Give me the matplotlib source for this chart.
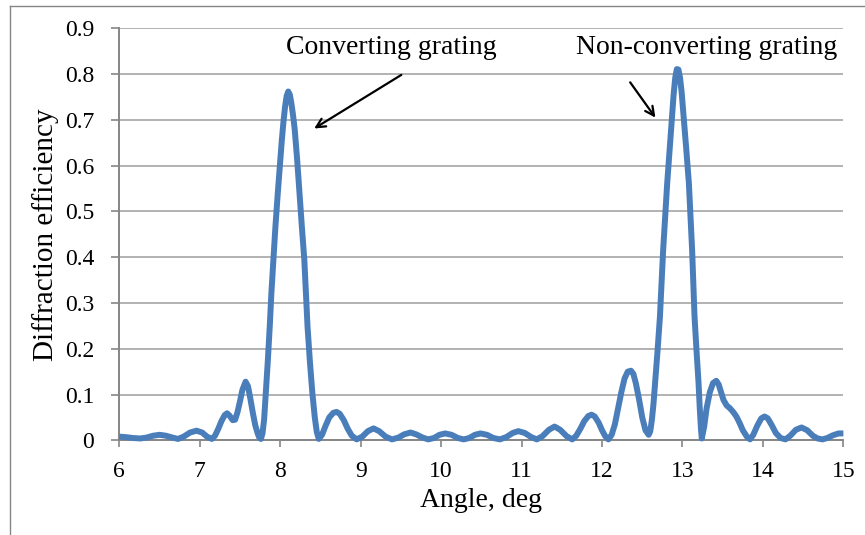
import matplotlib
matplotlib.use('Agg')
import matplotlib.pyplot as plt
from matplotlib.lines import Line2D

# angle (deg) and diffraction efficiency
angle = [
    # side lobes left of the converting-grating peak
    6.00, 6.08, 6.17, 6.26, 6.34, 6.42, 6.50, 6.58, 6.66, 6.73,
    6.80, 6.88, 6.96, 7.03, 7.09, 7.15, 7.19, 7.23, 7.27, 7.31,
    7.34, 7.37, 7.41, 7.44, 7.47, 7.50, 7.53, 7.57, 7.60, 7.63,
    7.66, 7.69, 7.72, 7.74, 7.76,
    # converting-grating peak
    7.78, 7.80, 7.82, 7.845, 7.87, 7.89, 7.915, 7.94, 7.97, 8.00,
    8.02, 8.04, 8.06, 8.08, 8.10, 8.12, 8.14, 8.16, 8.18, 8.21,
    8.24, 8.27, 8.30, 8.32, 8.34, 8.37, 8.40, 8.43, 8.455, 8.48,
    # ripples between the peaks
    8.52, 8.56, 8.61, 8.66, 8.70, 8.74, 8.79, 8.84, 8.89, 8.95,
    9.02, 9.09, 9.16, 9.23, 9.31, 9.39, 9.47, 9.54, 9.62, 9.69,
    9.77, 9.84, 9.91, 9.98, 10.05, 10.13, 10.21, 10.28, 10.35, 10.42,
    10.49, 10.57, 10.65, 10.73, 10.81, 10.89, 10.96, 11.04, 11.12, 11.19,
    11.26, 11.34, 11.41, 11.48, 11.56, 11.63, 11.68, 11.73, 11.78, 11.83,
    11.87, 11.91, 11.96, 12.00, 12.04, 12.08, 12.12, 12.16, 12.20, 12.24,
    12.28, 12.32, 12.36, 12.39, 12.42, 12.46, 12.50, 12.54, 12.58,
    # non-converting-grating peak
    12.60, 12.62, 12.64, 12.66, 12.69, 12.72, 12.74, 12.76, 12.785, 12.81,
    12.84, 12.87, 12.89, 12.91, 12.93, 12.95, 12.97, 12.99, 13.015, 13.05,
    13.08, 13.10, 13.12, 13.135, 13.15, 13.175, 13.20, 13.215, 13.23, 13.24,
    # side lobes on the right
    13.27, 13.30, 13.34, 13.38, 13.42, 13.45, 13.48, 13.51, 13.55, 13.59,
    13.63, 13.67, 13.71, 13.75, 13.80, 13.84, 13.88, 13.93, 13.98, 14.02,
    14.06, 14.11, 14.16, 14.22, 14.28, 14.34, 14.41, 14.48, 14.55, 14.62,
    14.68, 14.74, 14.80, 14.87, 14.94, 15.00,
]
efficiency = [
    0.008, 0.007, 0.005, 0.004, 0.006, 0.010, 0.012, 0.010, 0.006, 0.003,
    0.008, 0.017, 0.021, 0.017, 0.008, 0.003, 0.010, 0.025, 0.042, 0.055,
    0.059, 0.054, 0.044, 0.045, 0.062, 0.085, 0.110, 0.128, 0.118, 0.090,
    0.060, 0.033, 0.015, 0.006, 0.003,

    0.015, 0.045, 0.100, 0.170, 0.248, 0.320, 0.394, 0.465, 0.540, 0.610,
    0.655, 0.695, 0.728, 0.752, 0.762, 0.755, 0.735, 0.710, 0.680, 0.615,
    0.540, 0.465, 0.394, 0.320, 0.248, 0.170, 0.103, 0.050, 0.018, 0.003,

    0.012, 0.030, 0.050, 0.060, 0.062, 0.058, 0.044, 0.025, 0.010, 0.002,
    0.008, 0.020, 0.026, 0.020, 0.008, 0.002, 0.006, 0.013, 0.017, 0.013,
    0.006, 0.002, 0.005, 0.012, 0.015, 0.012, 0.005, 0.002, 0.005, 0.012,
    0.015, 0.012, 0.005, 0.002, 0.007, 0.016, 0.020, 0.016, 0.007, 0.002,
    0.009, 0.023, 0.030, 0.023, 0.009, 0.002, 0.010, 0.025, 0.042, 0.053,
    0.056, 0.052, 0.038, 0.022, 0.009, 0.002, 0.012, 0.035, 0.070, 0.105,
    0.135, 0.150, 0.152, 0.145, 0.125, 0.090, 0.050, 0.022, 0.012,

    0.020, 0.045, 0.080, 0.125, 0.195, 0.270, 0.343, 0.416, 0.490, 0.561,
    0.635, 0.707, 0.755, 0.792, 0.811, 0.810, 0.792, 0.760, 0.707, 0.630,
    0.561, 0.490, 0.416, 0.343, 0.270, 0.195, 0.125, 0.070, 0.025, 0.004,

    0.030, 0.070, 0.105, 0.125, 0.130, 0.122, 0.105, 0.088, 0.076, 0.070,
    0.062, 0.052, 0.038, 0.022, 0.008, 0.002, 0.012, 0.032, 0.048, 0.052,
    0.048, 0.033, 0.016, 0.005, 0.002, 0.010, 0.023, 0.028, 0.022, 0.010,
    0.004, 0.002, 0.005, 0.011, 0.015, 0.015,
]

x_ticks = [6, 7, 8, 9, 10, 11, 12, 13, 14, 15]
y_ticks = [0, 0.1, 0.2, 0.3, 0.4, 0.5, 0.6, 0.7, 0.8, 0.9]
y_tick_labels = ['0', '0.1', '0.2', '0.3', '0.4', '0.5', '0.6', '0.7', '0.8', '0.9']

plt.rcParams['font.family'] = ['Liberation Serif', 'DejaVu Serif']
axis_grey = '#868686'

fig = plt.figure(figsize=(8.65, 5.35), dpi=100)
ax = fig.add_axes([0.1379, 0.177, 0.975 - 0.1379, 0.947 - 0.177])

ax.plot(angle, efficiency, color='#4A7EBB', lw=4.3, solid_joinstyle='round',
        solid_capstyle='butt', clip_on=False, zorder=3)

ax.set_xlim(6, 15)
ax.set_ylim(0, 0.9)
ax.set_xticks(x_ticks)
ax.set_yticks(y_ticks)
ax.set_yticklabels(y_tick_labels)
ax.tick_params(axis='both', labelsize=17, color=axis_grey, width=1.2)
ax.tick_params(axis='y', length=6, pad=12)
ax.tick_params(axis='x', length=5, pad=10)

ax.grid(axis='y', color='#A6A6A6', lw=1.2)
ax.set_axisbelow(True)
for side in ['top', 'right']:
    ax.spines[side].set_visible(False)
for side in ['left', 'bottom']:
    ax.spines[side].set_color(axis_grey)
    ax.spines[side].set_linewidth(1.4)

ax.set_xlabel('Angle, deg', fontsize=20, labelpad=4)
ax.set_ylabel('Diffraction efficiency', fontsize=21, labelpad=4)

# annotations with arrows
ax.text(9.38, 0.845, 'Converting grating', fontsize=20, ha='center', va='baseline')
ax.annotate('', xy=(8.393, 0.678), xytext=(9.535, 0.8015),
            arrowprops=dict(arrowstyle='->', color='black', lw=1.6,
                            mutation_scale=16))
ax.text(13.30, 0.845, 'Non-converting grating', fontsize=20, ha='center', va='baseline')
ax.annotate('', xy=(12.684, 0.70), xytext=(12.33, 0.787),
            arrowprops=dict(arrowstyle='->', color='black', lw=1.6,
                            mutation_scale=16))

# outer chart frame (top and left edges visible in the reference)
fig.add_artist(Line2D([10 / 865, 1.0], [1 - 6 / 535, 1 - 6 / 535],
                      color=axis_grey, lw=1.0))
fig.add_artist(Line2D([10 / 865, 10 / 865], [0.0, 1 - 6 / 535],
                      color=axis_grey, lw=1.0))

fig.savefig('out.png', dpi=100)
